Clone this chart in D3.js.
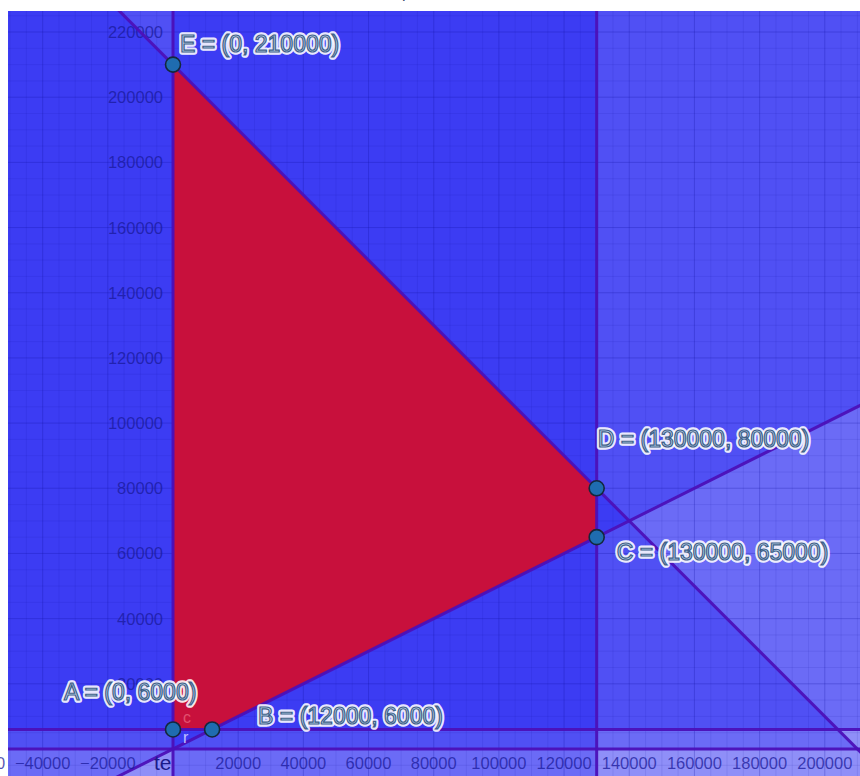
<!DOCTYPE html>
<html>
<head>
<meta charset="utf-8">
<script src="https://cdn.jsdelivr.net/npm/d3@7"></script>
<style>
  html, body { margin: 0; padding: 0; background: #ffffff; }
  svg { display: block; }
</style>
</head>
<body>
<div id="chart"></div>
<script>
// ---- data ----
// constraints written as a*x + b*y <= c
const constraintNames = ["x ≥ 0", "y ≥ 0", "y ≥ 6000", "x ≤ 130000", "x + y ≤ 210000", "y ≥ x/2"];
const coefA = [-1, 0, 0, 1, 1, 0.5];
const coefB = [0, -1, -1, 0, 1, -1];
const coefC = [0, 0, -6000, 130000, 210000, 0];

// vertices of the feasible region
const vertexNames = ["A", "B", "C", "D", "E"];
const vertexX = [0, 12000, 130000, 130000, 0];
const vertexY = [6000, 6000, 65000, 80000, 210000];

// axis tick labels
const xTicks = [-60000, -40000, -20000, 20000, 40000, 60000, 80000, 100000, 120000, 140000, 160000, 180000, 200000];
const yTicks = [20000, 40000, 60000, 80000, 100000, 120000, 140000, 160000, 180000, 200000, 220000];

// ---- layout ----
const W = 860, H = 776;
const plot = { left: 8, top: 11, right: 860, bottom: 776 };
const xDomain = [-50630, 210800];
const yDomain = [-8285, 226450];

const x = d3.scaleLinear().domain(xDomain).range([plot.left, plot.right]);
const y = d3.scaleLinear().domain(yDomain).range([plot.bottom, plot.top]);

const svg = d3.select("#chart").append("svg").attr("width", W).attr("height", H);

svg.append("defs").append("clipPath").attr("id", "pclip")
  .append("rect").attr("x", plot.left).attr("y", plot.top)
  .attr("width", plot.right - plot.left).attr("height", plot.bottom - plot.top);

// cut-off glyph of a title above the plot
svg.append("text").attr("x", 402).attr("y", -2)
  .style("font-family", "Liberation Sans, Arial, sans-serif").style("font-size", "16px")
  .attr("fill", "#3a4a6a").text("p");

const g = svg.append("g").attr("clip-path", "url(#pclip)");

g.append("rect").attr("x", plot.left).attr("y", plot.top)
  .attr("width", plot.right - plot.left).attr("height", plot.bottom - plot.top)
  .attr("fill", "#ffffff");

// clip domain rectangle against half-plane a*x+b*y<=c
function halfPlanePoly(a, b, c) {
  const rect = [[xDomain[0], yDomain[0]], [xDomain[1], yDomain[0]], [xDomain[1], yDomain[1]], [xDomain[0], yDomain[1]]];
  const out = [];
  const f = p => a * p[0] + b * p[1] - c;
  for (let i = 0; i < rect.length; i++) {
    const P = rect[i], Q = rect[(i + 1) % rect.length];
    const fp = f(P), fq = f(Q);
    if (fp <= 0) out.push(P);
    if ((fp < 0 && fq > 0) || (fp > 0 && fq < 0)) {
      const t = fp / (fp - fq);
      out.push([P[0] + t * (Q[0] - P[0]), P[1] + t * (Q[1] - P[1])]);
    }
  }
  return out;
}

const line = d3.line().x(d => x(d[0])).y(d => y(d[1]));

// shaded half-planes
coefA.forEach((a, i) => {
  const poly = halfPlanePoly(a, coefB[i], coefC[i]);
  g.append("path").attr("d", line(poly) + "Z")
    .attr("fill", "rgb(0,0,240)").attr("fill-opacity", 0.25);
});

// grid
const minorX = d3.range(-60000, 215001, 5000);
const minorY = d3.range(-10000, 230001, 5000);
g.append("g").selectAll("line").data(minorX.filter(v => v % 20000 !== 0)).join("line")
  .attr("x1", d => x(d)).attr("x2", d => x(d)).attr("y1", plot.top).attr("y2", plot.bottom)
  .attr("stroke", "#1010a0").attr("stroke-opacity", 0.1).attr("stroke-width", 1);
g.append("g").selectAll("line").data(minorY.filter(v => v % 20000 !== 0)).join("line")
  .attr("y1", d => y(d)).attr("y2", d => y(d)).attr("x1", plot.left).attr("x2", plot.right)
  .attr("stroke", "#1010a0").attr("stroke-opacity", 0.1).attr("stroke-width", 1);
g.append("g").selectAll("line").data(minorX.filter(v => v % 20000 === 0)).join("line")
  .attr("x1", d => x(d)).attr("x2", d => x(d)).attr("y1", plot.top).attr("y2", plot.bottom)
  .attr("stroke", "#1010a0").attr("stroke-opacity", 0.25).attr("stroke-width", 1);
g.append("g").selectAll("line").data(minorY.filter(v => v % 20000 === 0)).join("line")
  .attr("y1", d => y(d)).attr("y2", d => y(d)).attr("x1", plot.left).attr("x2", plot.right)
  .attr("stroke", "#1010a0").attr("stroke-opacity", 0.25).attr("stroke-width", 1);

// tick labels
const tickFont = "Liberation Sans, Arial, sans-serif";
g.append("g").selectAll("text").data(yTicks).join("text")
  .attr("x", x(0) - 10).attr("y", d => y(d)).attr("dy", "0.36em")
  .attr("text-anchor", "end")
  .style("font-family", tickFont).style("font-size", "16.5px")
  .attr("fill", "#1a1a9a").attr("fill-opacity", 0.75)
  .text(d => d);

// feasible region
const feas = vertexX.map((vx, i) => [vx, vertexY[i]]);
g.append("path").attr("d", line(feas) + "Z").attr("fill", "#c8103c");

// boundary lines
coefA.forEach((a, i) => {
  const b = coefB[i], c = coefC[i];
  let pts;
  if (b === 0) {
    const xv = c / a;
    pts = [[xv, yDomain[0] - 10000], [xv, yDomain[1] + 10000]];
  } else {
    const x1 = xDomain[0] - 10000, x2 = xDomain[1] + 10000;
    pts = [[x1, (c - a * x1) / b], [x2, (c - a * x2) / b]];
  }
  g.append("path").attr("d", line(pts))
    .attr("stroke", "#4c10b8").attr("stroke-width", 3).attr("stroke-opacity", 0.95).attr("fill", "none");
});

// small line labels near origin
g.append("text").attr("x", x(0) + 10).attr("y", y(0) - 26)
  .style("font-family", tickFont).style("font-size", "16px").attr("fill", "#e2506e").text("c");
g.append("text").attr("x", x(0) + 10).attr("y", y(0) - 6)
  .style("font-family", tickFont).style("font-size", "16px").attr("fill", "#c0c0ff").text("r");

// x tick labels
svg.append("g").selectAll("text").data(xTicks).join("text")
  .attr("x", d => x(d)).attr("y", y(0) + 20)
  .attr("text-anchor", "middle")
  .style("font-family", tickFont).style("font-size", "16.5px")
  .attr("fill", "#1a1a9a").attr("fill-opacity", 0.75)
  .text(d => d < 0 ? "\u2212" + Math.abs(d) : d);
svg.append("text").attr("x", x(0) - 19).attr("y", y(0) + 21)
  .style("font-family", tickFont).style("font-size", "21px")
  .attr("fill", "#1a1a8a").text("te");

// vertices
g.append("g").selectAll("circle").data(vertexX).join("circle")
  .attr("cx", d => x(d)).attr("cy", (d, i) => y(vertexY[i])).attr("r", 7.5)
  .attr("fill", "#1f6cb0").attr("stroke", "#14283c").attr("stroke-width", 1.6);

// vertex labels (offsets in pixels)
const labelDx = [-109, 46, 20, 1, 7];
const labelDy = [-29, -5, 23, -41, -13];
const labelText = vertexNames.map((n, i) => `${n} = (${vertexX[i]}, ${vertexY[i]})`);
const lab = svg.append("g");
lab.selectAll("text.halo").data(labelText).join("text").attr("class", "halo")
  .attr("x", (d, i) => x(vertexX[i]) + labelDx[i]).attr("y", (d, i) => y(vertexY[i]) + labelDy[i])
  .style("font-family", tickFont).style("font-size", "23px")
  .attr("fill", "none").attr("stroke", "#ffffff").attr("stroke-width", 5.5).attr("stroke-linejoin", "round")
  .attr("stroke-opacity", 0.9)
  .text(d => d);
lab.selectAll("text.main").data(labelText).join("text").attr("class", "main")
  .attr("x", (d, i) => x(vertexX[i]) + labelDx[i]).attr("y", (d, i) => y(vertexY[i]) + labelDy[i])
  .style("font-family", tickFont).style("font-size", "23px")
  .attr("fill", "#c4dcf2").attr("stroke", "#3e6088").attr("stroke-width", 1.2)
  .text(d => d);
</script>
</body>
</html>
